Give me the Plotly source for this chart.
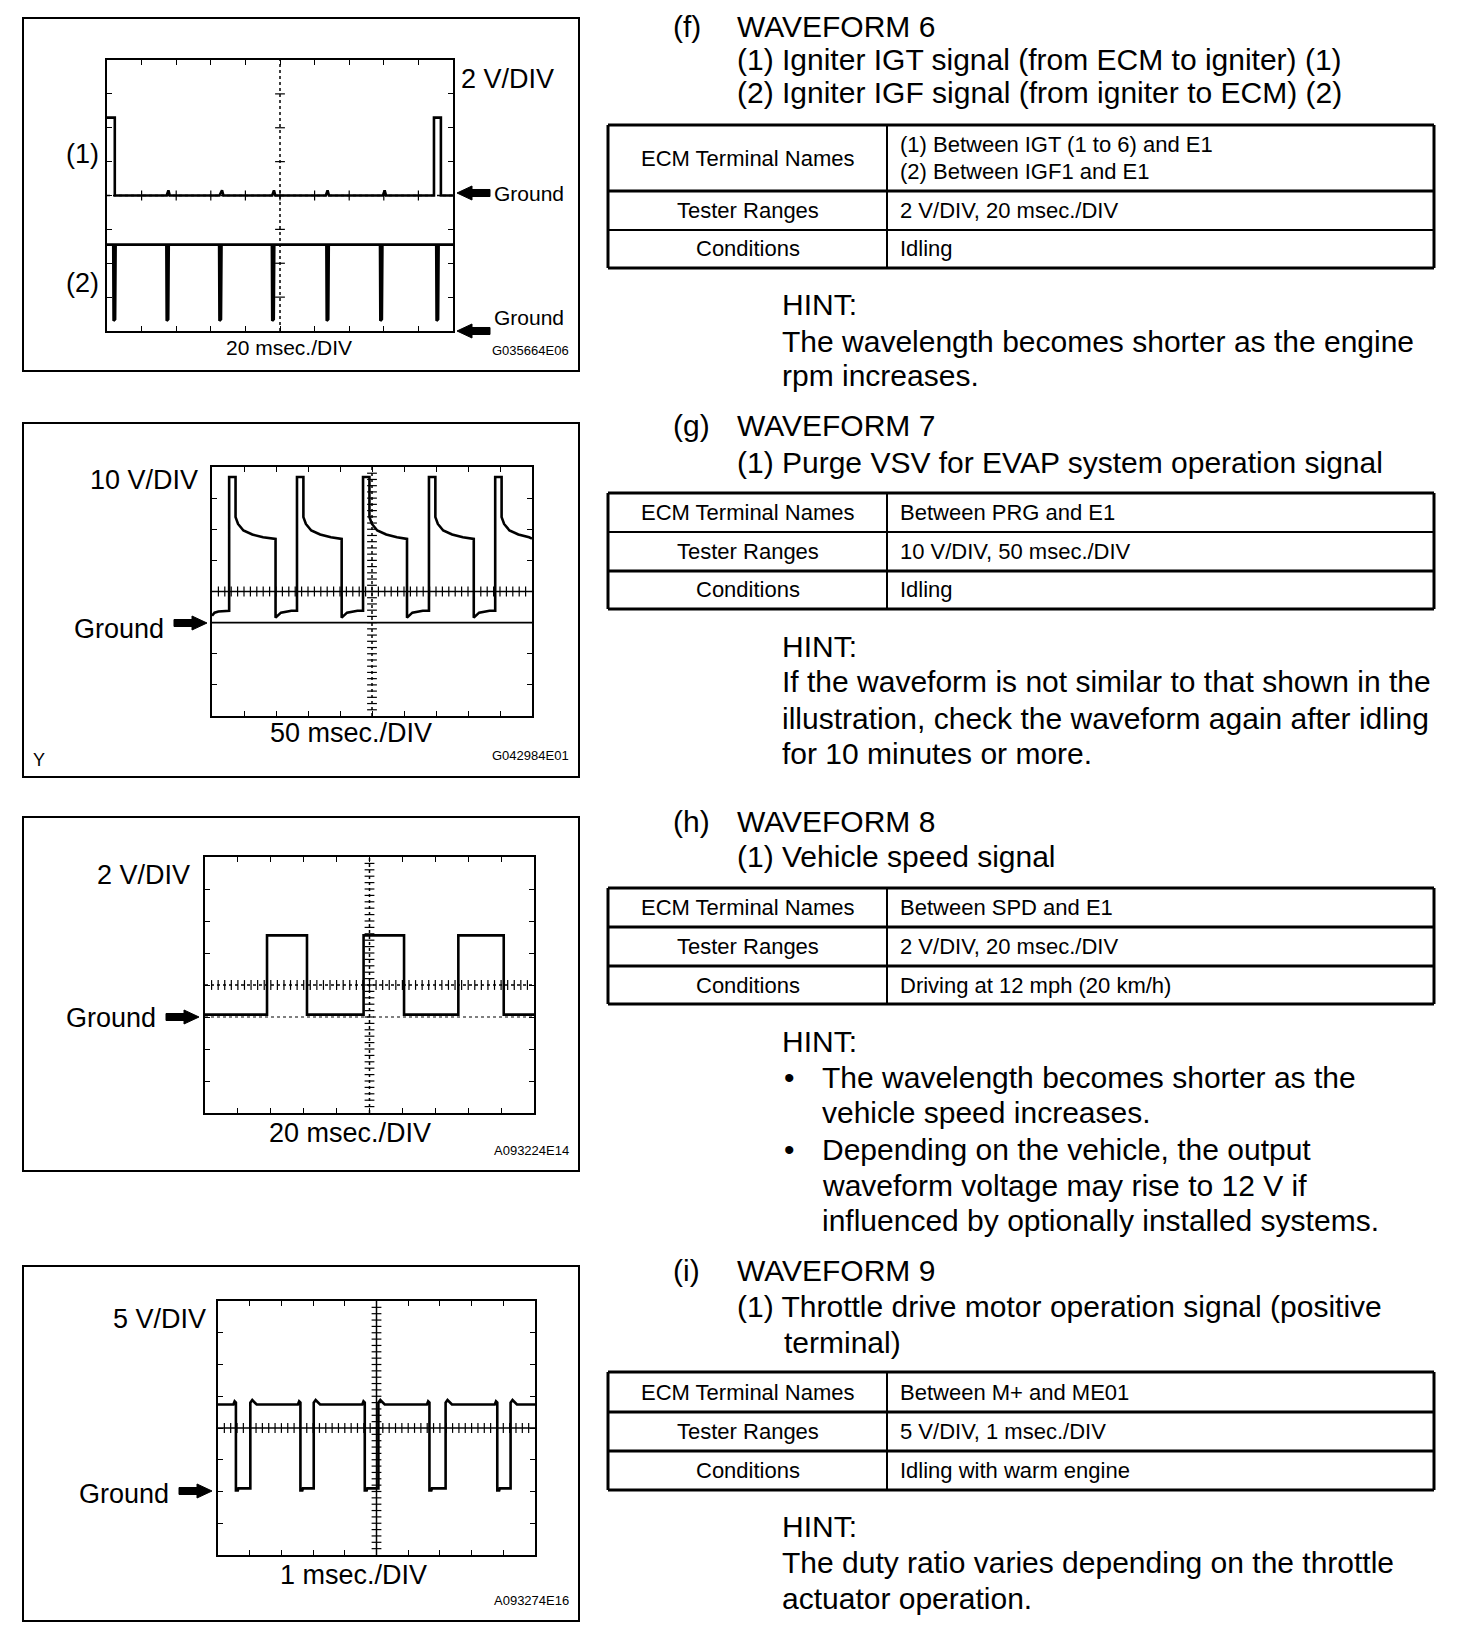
import numpy as np
import plotly.graph_objects as go

W, H = 1472, 1644
FONT = "Liberation Sans, Arial, Helvetica, sans-serif"

# ----------------------------- DATA -----------------------------
# Waveform 6: 2 V/DIV, 20 msec./DIV  (time ms, volts)
wf6_igt_t = [0, 4.5, 4.5, 34.5, 35.5, 36.3, 65.0, 66.5, 67.3, 95.5, 96.5, 97.3,
             126.5, 127.5, 128.3, 159.5, 160.5, 161.3, 189.0, 189.0, 193.0, 193.0, 200]
wf6_igt_v = [4.6, 4.6, 0, 0, 0.3, 0, 0, 0.3, 0, 0, 0.3, 0,
             0, 0.3, 0, 0, 0.3, 0, 0, 4.6, 4.6, 0, 0]
wf6_igf_t = [0, 3.6, 3.8, 4.7, 5.0, 34.3, 34.5, 35.4, 35.7, 64.8, 65.0, 65.9, 66.2,
             95.3, 95.5, 96.4, 96.7, 126.8, 127.0, 127.9, 128.2, 157.8, 158.0, 158.9, 159.2,
             190.3, 190.5, 191.4, 191.7, 200]
wf6_igf_v = [5.1, 5.1, 0.6, 0.7, 5.1, 5.1, 0.6, 0.7, 5.1, 5.1, 0.6, 0.7, 5.1,
             5.1, 0.6, 0.7, 5.1, 5.1, 0.6, 0.7, 5.1, 5.1, 0.6, 0.7, 5.1,
             5.1, 0.6, 0.7, 5.1, 5.1]

# Waveform 7: 10 V/DIV, 50 msec./DIV
wf7_t = [0, 4, 10,
         26.8, 26.8, 36.8, 36.8, 40.7, 49.1, 63.0, 79.8, 99.3, 99.3, 107.7, 124.0,
         132.8, 132.8, 142.8, 142.8, 146.7, 155.1, 169.0, 185.8, 202.6, 202.6, 211.0, 227.3,
         236.0, 236.0, 246.0, 246.0, 249.9, 258.3, 272.2, 289.0, 304.7, 304.7, 313.1, 329.4,
         339.0, 339.0, 349.0, 349.0, 352.9, 361.3, 375.2, 392.0, 409.0, 409.0, 417.4, 433.7,
         442.5, 442.5, 452.5, 452.5, 456.4, 464.8, 478.7, 495.5, 500]
wf7_v = [2.2, 3.2, 3.6,
         3.8, 46.8, 46.8, 33.9, 31.7, 29.6, 28.3, 27.4, 26.9, 1.6, 3.2, 3.8,
         3.8, 46.8, 46.8, 33.9, 31.7, 29.6, 28.3, 27.4, 26.9, 1.6, 3.2, 3.8,
         3.8, 46.8, 46.8, 33.9, 31.7, 29.6, 28.3, 27.4, 26.9, 1.6, 3.2, 3.8,
         3.8, 46.8, 46.8, 33.9, 31.7, 29.6, 28.3, 27.4, 26.9, 1.6, 3.2, 3.8,
         3.8, 46.8, 46.8, 33.9, 31.7, 29.6, 28.3, 27.4, 27.0]

# Waveform 8: 2 V/DIV, 20 msec./DIV
wf8_t = [0, 37.7, 37.7, 62.0, 62.0, 96.4, 96.4, 121.0, 121.0, 154.0, 154.0, 181.6, 181.6, 200]
wf8_v = [0.15, 0.15, 5.1, 5.1, 0.15, 0.15, 5.1, 5.1, 0.15, 0.15, 5.1, 5.1, 0.15, 0.15]

# Waveform 9: 5 V/DIV, 1 msec./DIV
wf9_t = [0,
         0.485, 0.525, 0.565, 0.565, 0.625, 0.645, 1.02, 1.02, 1.08, 1.22,
         2.52, 2.56, 2.60, 2.60, 2.66, 2.68, 3.02, 3.02, 3.08, 3.22,
         4.55, 4.59, 4.63, 4.63, 4.69, 4.71, 5.06, 5.06, 5.12, 5.26,
         6.59, 6.63, 6.67, 6.67, 6.73, 6.75, 7.18, 7.18, 7.24, 7.38,
         8.73, 8.77, 8.81, 8.81, 8.87, 8.89, 9.23, 9.23, 9.29, 9.43,
         10]
wf9_v = [13.7,
         13.7, 14.2, 14.0, 0.15, 0.15, 0.5, 0.5, 14.0, 14.4, 13.7,
         13.7, 14.2, 14.0, 0.15, 0.15, 0.5, 0.5, 14.0, 14.4, 13.7,
         13.7, 14.2, 14.0, 0.15, 0.15, 0.5, 0.5, 14.0, 14.4, 13.7,
         13.7, 14.2, 14.0, 0.15, 0.15, 0.5, 0.5, 14.0, 14.4, 13.7,
         13.7, 14.2, 14.0, 0.15, 0.15, 0.5, 0.5, 14.0, 14.4, 13.7,
         13.7]

# Scope scales: (volts per div, ms per div, ground division)
scope_vdiv = [2, 10, 2, 5]
scope_tdiv = [20, 50, 20, 1]
scope_gnd = [4, 3, 3, 2]

scope_vlabels = ["2 V/DIV", "10 V/DIV", "2 V/DIV", "5 V/DIV"]
scope_tlabels = ["20 msec./DIV", "50 msec./DIV", "20 msec./DIV", "1 msec./DIV"]
scope_codes = ["G035664E06", "G042984E01", "A093224E14", "A093274E16"]

# Right-column text
sec_letters = ["(f)", "(g)", "(h)", "(i)"]
sec_titles = [
    ["WAVEFORM 6", "(1) Igniter IGT signal (from ECM to igniter) (1)",
     "(2) Igniter IGF signal (from igniter to ECM) (2)"],
    ["WAVEFORM 7", "(1) Purge VSV for EVAP system operation signal"],
    ["WAVEFORM 8", "(1) Vehicle speed signal"],
    ["WAVEFORM 9", "(1) Throttle drive motor operation signal (positive", "terminal)"],
]
tbl_heads = ["ECM Terminal Names", "Tester Ranges", "Conditions"]
tbl_vals = [
    [["(1) Between IGT (1 to 6) and E1", "(2) Between IGF1 and E1"], ["2 V/DIV, 20 msec./DIV"], ["Idling"]],
    [["Between PRG and E1"], ["10 V/DIV, 50 msec./DIV"], ["Idling"]],
    [["Between SPD and E1"], ["2 V/DIV, 20 msec./DIV"], ["Driving at 12 mph (20 km/h)"]],
    [["Between M+ and ME01"], ["5 V/DIV, 1 msec./DIV"], ["Idling with warm engine"]],
]
hint_lines = [
    [("", "HINT:"), ("", "The wavelength becomes shorter as the engine"), ("", "rpm increases.")],
    [("", "HINT:"), ("", "If the waveform is not similar to that shown in the"),
     ("", "illustration, check the waveform again after idling"), ("", "for 10 minutes or more.")],
    [("", "HINT:"), ("•", "The wavelength becomes shorter as the"), ("", "vehicle speed increases."),
     ("•", "Depending on the vehicle, the output"), ("", "waveform voltage may rise to 12 V if"),
     ("", "influenced by optionally installed systems.")],
    [("", "HINT:"), ("", "The duty ratio varies depending on the throttle"), ("", "actuator operation.")],
]

# ----------------------------- LAYOUT -----------------------------
OFF = 8  # page body margin of the html page


def px(x):
    return (x - OFF) / W


def py(y):
    return 1 - (y - OFF) / H


fig = go.Figure()
shapes = []
annotations = []


def text(x, y, s, size, xanchor="left"):
    annotations.append(dict(x=px(x), y=py(y), xref="paper", yref="paper", text=s,
                            showarrow=False, xanchor=xanchor, yanchor="middle",
                            font=dict(family=FONT, size=size, color="black")))


def pline(x0, y0, x1, y1, w=2):
    shapes.append(dict(type="line", xref="paper", yref="paper", x0=px(x0), y0=py(y0),
                       x1=px(x1), y1=py(y1), line=dict(color="black", width=w)))


def arrow(x_tip, y, direction, length=33, head=15, hh=7, sh=3.5):
    s = 1 if direction == "right" else -1
    tail = x_tip - s * length
    hb = x_tip - s * head
    pts = [(tail, y - sh), (hb, y - sh), (hb, y - hh), (x_tip, y), (hb, y + hh), (hb, y + sh), (tail, y + sh)]
    path = "M " + " L ".join(f"{px(a):.5f},{py(b):.5f}" for a, b in pts) + " Z"
    shapes.append(dict(type="path", xref="paper", yref="paper", path=path,
                       fillcolor="black", line=dict(color="black", width=1)))


# Outer boxes of the four illustrations
outer_boxes = [(23, 18, 579, 371), (23, 423, 579, 777), (23, 817, 579, 1171), (23, 1266, 579, 1621)]
for (x0, y0, x1, y1) in outer_boxes:
    shapes.append(dict(type="rect", xref="paper", yref="paper", x0=px(x0), y0=py(y1),
                       x1=px(x1), y1=py(y0), line=dict(color="black", width=2)))

# Inner scope screens (pixel boxes)
inner = [(107, 60, 453, 331), (212, 467, 532, 716), (205, 857, 534, 1113), (218, 1301, 535, 1555)]
xaxes = ["xaxis", "xaxis2", "xaxis3", "xaxis4"]
yaxes = ["yaxis", "yaxis3", "yaxis4", "yaxis5"]
xrefs = ["x", "x2", "x3", "x4"]
yrefs = ["y", "y3", "y4", "y5"]

layout_axes = {}
for i, (x0, y0, x1, y1) in enumerate(inner):
    vd, td, g = scope_vdiv[i], scope_tdiv[i], scope_gnd[i]
    yr = [-g * vd, (8 - g) * vd]
    xr = [0, 10 * td]
    common = dict(showline=True, linecolor="black", linewidth=2, mirror="ticks", ticks="inside",
                  ticklen=5, tickwidth=1.2, tickcolor="black", showgrid=False, zeroline=False,
                  showticklabels=False, fixedrange=True)
    layout_axes[xaxes[i]] = dict(domain=[px(x0), px(x1)], range=xr, dtick=td, tick0=0,
                                 anchor=yrefs[i], **common)
    layout_axes[yaxes[i]] = dict(domain=[py(y1), py(y0)], range=yr, dtick=vd, tick0=yr[0],
                                 anchor=xrefs[i], **common)

# second y axis for IGF channel in panel 1 (ground at bottom)
layout_axes["yaxis2"] = dict(domain=layout_axes["yaxis"]["domain"], range=[0, 16], overlaying="y",
                             visible=False, fixedrange=True)

# graticule centre lines + minor ticks
center_styles = [("dot", "dot"), ("solid", "dot"), ("dot", "dot"), ("solid", "solid")]
for i in range(4):
    vd, td, g = scope_vdiv[i], scope_tdiv[i], scope_gnd[i]
    xc = 5 * td
    yc = (4 - g) * vd
    hs, vs = center_styles[i]
    xr = [0, 10 * td]
    yr = [-g * vd, (8 - g) * vd]
    shapes.append(dict(type="line", xref=xrefs[i], yref=yrefs[i], x0=xr[0], x1=xr[1], y0=yc, y1=yc,
                       line=dict(color="black", width=1.5, dash=hs)))
    shapes.append(dict(type="line", xref=xrefs[i], yref=yrefs[i], x0=xc, x1=xc, y0=yr[0], y1=yr[1],
                       line=dict(color="black", width=1.5, dash=vs)))
    step_x = td if i == 0 else td / 5
    step_y = vd if i == 0 else vd / 5
    tx = np.arange(xr[0] + step_x, xr[1] - step_x / 2, step_x)
    ty = np.arange(yr[0] + step_y, yr[1] - step_y / 2, step_y)
    fig.add_trace(go.Scatter(x=tx, y=[yc] * len(tx), xaxis=xrefs[i], yaxis=yrefs[i], mode="markers",
                             marker=dict(symbol="line-ns", size=7, line=dict(color="black", width=1.2)),
                             hoverinfo="skip"))
    fig.add_trace(go.Scatter(x=[xc] * len(ty), y=ty, xaxis=xrefs[i], yaxis=yrefs[i], mode="markers",
                             marker=dict(symbol="line-ew", size=7, line=dict(color="black", width=1.2)),
                             hoverinfo="skip"))

# ground lines
shapes.append(dict(type="line", xref="x2", yref="y3", x0=0, x1=500, y0=0, y1=0,
                   line=dict(color="black", width=1.8)))
shapes.append(dict(type="line", xref="x3", yref="y4", x0=0, x1=200, y0=0, y1=0,
                   line=dict(color="black", width=1.2, dash="dot")))

# waveforms
wl = dict(color="black", width=2.6)
fig.add_trace(go.Scatter(x=wf6_igt_t, y=wf6_igt_v, xaxis="x", yaxis="y", mode="lines", line=wl))
fig.add_trace(go.Scatter(x=wf6_igf_t, y=wf6_igf_v, xaxis="x", yaxis="y2", mode="lines", line=wl))
fig.add_trace(go.Scatter(x=wf7_t, y=wf7_v, xaxis="x2", yaxis="y3", mode="lines", line=wl))
fig.add_trace(go.Scatter(x=wf8_t, y=wf8_v, xaxis="x3", yaxis="y4", mode="lines", line=wl))
fig.add_trace(go.Scatter(x=wf9_t, y=wf9_v, xaxis="x4", yaxis="y5", mode="lines", line=wl))

# ---- illustration labels ----
# Panel 1
text(459, 79, scope_vlabels[0], 27)
text(82, 154, "(1)", 27, "center")
text(82, 283, "(2)", 27, "center")
text(492, 193, "Ground", 21)
text(492, 317, "Ground", 21)
arrow(457, 193, "left")
arrow(457, 331, "left")
text(289, 347, scope_tlabels[0], 21, "center")
text(530, 350, scope_codes[0], 13, "center")
# Panel 2
text(200, 480, scope_vlabels[1], 27, "right")
text(166, 629, "Ground", 27, "right")
arrow(207, 623, "right")
text(351, 733, scope_tlabels[1], 27, "center")
text(39, 760, "Y", 18, "center")
text(571, 755, scope_codes[1], 13, "right")
# Panel 3
text(192, 875, scope_vlabels[2], 27, "right")
text(158, 1018, "Ground", 27, "right")
arrow(199, 1017, "right")
text(350, 1133, scope_tlabels[2], 27, "center")
text(571, 1150, scope_codes[2], 13, "right")
# Panel 4
text(208, 1319, scope_vlabels[3], 27, "right")
text(171, 1494, "Ground", 27, "right")
arrow(212, 1491, "right")
text(353, 1575, scope_tlabels[3], 27, "center")
text(571, 1600, scope_codes[3], 13, "right")

# ---- right column ----
head_y = [[26, 59, 93], [426, 462], [821, 857], [1270, 1306, 1342]]
head_x = [[735, 735, 735], [735, 735], [735, 735], [735, 735, 782]]
tbl_y = [[125, 191, 230, 268], [493, 532, 571, 609], [888, 927, 966, 1004], [1372, 1412, 1451, 1490]]
tbl_sep_w = [[3, 2], [2, 3], [3, 3], [3, 3]]
hint_y = [[304, 341, 376], [646, 681, 718, 754], [1041, 1077, 1112, 1149, 1185, 1220], [1526, 1562, 1598]]
TL, TR, TC = 608, 1434, 887

for s in range(4):
    text(671, head_y[s][0], sec_letters[s], 30)
    for k, line in enumerate(sec_titles[s]):
        text(head_x[s][k], head_y[s][k], line, 30)
    ys = tbl_y[s]
    # table frame
    pline(TL, ys[0], TR, ys[0], 3)
    pline(TL, ys[3], TR, ys[3], 3)
    pline(TL, ys[0], TL, ys[3], 3)
    pline(TR, ys[0], TR, ys[3], 3)
    pline(TC, ys[0], TC, ys[3], 2)
    pline(TL, ys[1], TR, ys[1], tbl_sep_w[s][0])
    pline(TL, ys[2], TR, ys[2], tbl_sep_w[s][1])
    for r in range(3):
        yc = (ys[r] + ys[r + 1]) / 2
        text((TL + TC) / 2, yc, tbl_heads[r], 22, "center")
        vals = tbl_vals[s][r]
        if len(vals) == 1:
            text(898, yc, vals[0], 22)
        else:
            text(898, yc - 14, vals[0], 22)
            text(898, yc + 14, vals[1], 22)
    for k, (bullet, line) in enumerate(hint_lines[s]):
        yy = hint_y[s][k]
        if s == 2 and k > 0:
            if bullet:
                text(782, yy, bullet, 30)
            text(820, yy, line, 30)
        else:
            text(780, yy, line, 30)

fig.update_layout(
    width=W, height=H, margin=dict(l=0, r=0, t=0, b=0),
    paper_bgcolor="white", plot_bgcolor="rgba(0,0,0,0)", showlegend=False,
    shapes=shapes, annotations=annotations, **layout_axes,
)

fig.write_html("out.html")
